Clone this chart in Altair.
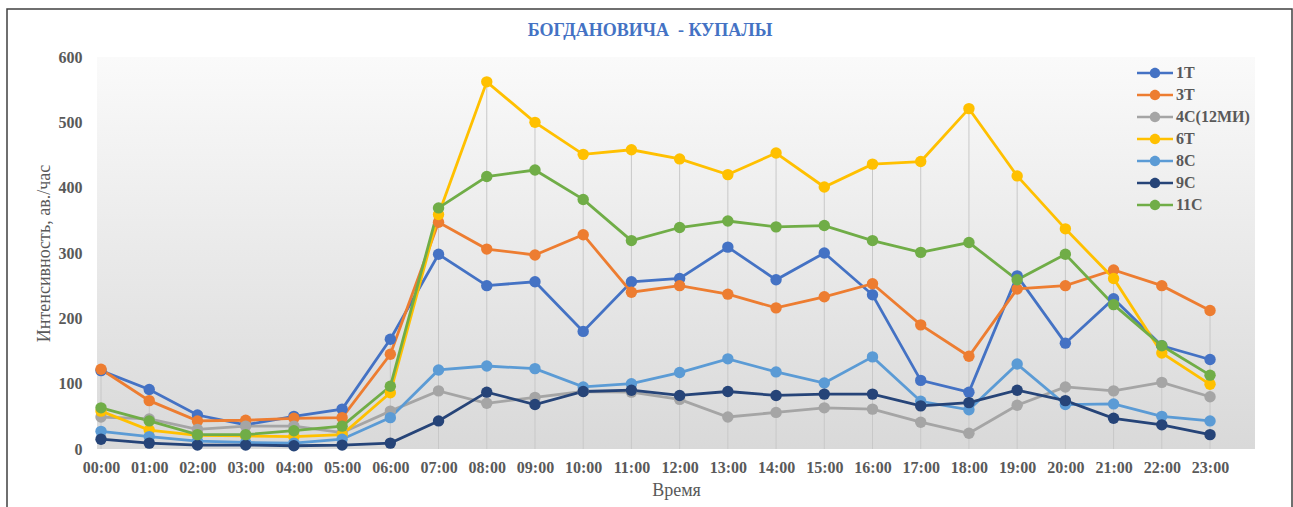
import altair as alt
import pandas as pd

hours = ["00:00", "01:00", "02:00", "03:00", "04:00", "05:00", "06:00", "07:00",
         "08:00", "09:00", "10:00", "11:00", "12:00", "13:00", "14:00", "15:00",
         "16:00", "17:00", "18:00", "19:00", "20:00", "21:00", "22:00", "23:00"]

series_names = ["1T", "3T", "4C(12MИ)", "6T", "8C", "9C", "11C"]
series_colors = ["#4472C4", "#ED7D31", "#A5A5A5", "#FFC000", "#5B9BD5", "#264478", "#70AD47"]

s_1T = [120, 91, 52, 37, 50, 61, 168, 298, 250, 256, 180, 256, 261, 309, 259, 300,
        236, 105, 87, 265, 162, 230, 158, 137]
s_3T = [122, 74, 43, 44, 47, 48, 145, 347, 306, 297, 328, 240, 250, 237, 216, 233,
        253, 190, 142, 245, 250, 274, 250, 212]
s_4C = [49, 46, 30, 35, 35, 25, 58, 89, 70, 79, 88, 87, 76, 49, 56, 63,
        61, 41, 24, 67, 95, 89, 102, 80]
s_6T = [58, 29, 21, 20, 19, 22, 86, 359, 562, 500, 451, 458, 444, 420, 453, 401,
        436, 440, 521, 418, 337, 261, 147, 99]
s_8C = [27, 19, 12, 10, 9, 15, 48, 121, 127, 123, 95, 100, 117, 138, 118, 101,
        141, 73, 60, 130, 68, 69, 50, 43]
s_9C = [15, 9, 6, 6, 5, 6, 9, 43, 87, 68, 88, 90, 82, 88, 82, 84,
        84, 66, 71, 90, 74, 47, 37, 22]
s_11C = [63, 43, 22, 22, 28, 35, 96, 369, 417, 427, 382, 319, 339, 349, 340, 342,
         319, 301, 316, 259, 298, 221, 158, 113]

all_series = [s_1T, s_3T, s_4C, s_6T, s_8C, s_9C, s_11C]

rows = []
for name, vals in zip(series_names, all_series):
    for t, v in zip(hours, vals):
        rows.append({"time": t, "series": name, "value": v})
df = pd.DataFrame(rows)

W, H = 1158, 392
FONT = "Liberation Serif"
GRAY = "#595959"

x_enc = alt.X("time:O", sort=hours,
              scale=alt.Scale(type="point", padding=0.508, align=0.082),
              axis=alt.Axis(title="Время", labelAngle=0, labelPadding=10, titlePadding=6))
y_enc = alt.Y("value:Q", scale=alt.Scale(domain=[0, 600], nice=False, zero=True),
              axis=alt.Axis(title="Интенсивность,  ав./час", values=[0, 100, 200, 300, 400, 500, 600],
                            labelPadding=15, titlePadding=5))

legend_path = ("M-1,-0.07L1,-0.07L1,0.07L-1,0.07Z "
               "M-0.29,0A0.29,0.29,0,1,1,0.29,0A0.29,0.29,0,1,1,-0.29,0Z")

legend = alt.Legend(title=None, orient="none", legendX=1040, legendY=6,
                    symbolType=legend_path, symbolSize=1296,
                    symbolStrokeWidth=0, symbolOpacity=1,
                    clipHeight=20, rowPadding=2, padding=0,
                    labelFont=FONT, labelFontSize=16, labelFontWeight="bold",
                    labelColor=GRAY, labelOffset=3)

color_enc = alt.Color("series:N", scale=alt.Scale(domain=series_names, range=series_colors),
                      legend=legend)

one = pd.DataFrame({"a": [0]})

background = alt.Chart(one).mark_rect(
    color=alt.Gradient(gradient="linear", x1=0, x2=0, y1=0, y2=1,
                       stops=[alt.GradientStop(color="#fafafa", offset=0),
                              alt.GradientStop(color="#d9d9d9", offset=1)])
).encode(x=alt.value(0), x2=alt.value(W), y=alt.value(0), y2=alt.value(H))

drops = alt.Chart(df).mark_rule(color="#c8c8c8", strokeWidth=1).encode(
    x=x_enc, y=alt.Y("max(value):Q", scale=alt.Scale(domain=[0, 600], nice=False)),
    y2=alt.value(H))

lines = alt.Chart(df).mark_line(strokeWidth=2.8).encode(
    x=x_enc, y=y_enc, color=color_enc)

points = alt.Chart(df).mark_point(filled=True, size=130, opacity=1).encode(
    x=x_enc, y=y_enc, color=color_enc)

border = alt.Chart(one).mark_rect(fill="transparent", stroke="#404040", strokeWidth=1.5).encode(
    x=alt.value(-90), x2=alt.value(1195), y=alt.value(-48), y2=alt.value(480))

chart = alt.layer(background, drops, lines, points, border).properties(
    width=W, height=H,
    autosize=alt.AutoSizeParams(type="none"),
    padding={"left": 97, "top": 57, "right": 38, "bottom": 58},
    title=alt.TitleParams("БОГДАНОВИЧА\u00a0 - КУПАЛЫ", font=FONT, fontSize=18, fontWeight="bold",
                          color="#4472C4", anchor="middle", baseline="middle", offset=-41, dx=-26),
    background="white",
).configure_view(stroke=None).configure_axis(
    domain=False, ticks=False, grid=False,
    labelFont=FONT, labelFontSize=16, labelFontWeight="bold", labelColor=GRAY,
    titleFont=FONT, titleFontSize=18, titleFontWeight="normal", titleColor=GRAY,
)

chart.save("out.html", embed_options={"renderer": "svg", "actions": False})
